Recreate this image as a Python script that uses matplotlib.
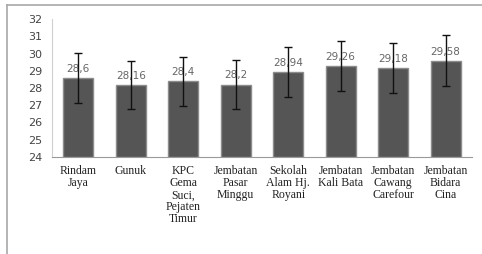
import matplotlib
matplotlib.use("Agg")
import matplotlib.pyplot as plt
from matplotlib.lines import Line2D
from matplotlib.font_manager import FontProperties

categories = ["Rindam\nJaya", "Gunuk", "KPC\nGema\nSuci,\nPejaten\nTimur", "Jembatan\nPasar\nMinggu",
              "Sekolah\nAlam Hj.\nRoyani", "Jembatan\nKali Bata", "Jembatan\nCawang\nCarefour", "Jembatan\nBidara\nCina"]
values = [28.6, 28.16, 28.4, 28.2, 28.94, 29.26, 29.18, 29.58]
errors = [1.45, 1.4, 1.42, 1.4, 1.45, 1.45, 1.45, 1.47]
labels = ["28,6", "28,16", "28,4", "28,2", "28,94", "29,26", "29,18", "29,58"]
yticks = [24, 25, 26, 27, 28, 29, 30, 31, 32]

fig = plt.figure(figsize=(4.82, 2.54), dpi=100)
ax = fig.add_axes([0.108, 0.382, 0.871, 0.543])

x = list(range(len(values)))
ax.bar(x, [v - 24 for v in values], bottom=24, width=0.57, color="#555555",
       edgecolor="#8c8c8c", linewidth=1.0, zorder=2)
ax.errorbar(x, values, yerr=errors, fmt="none", ecolor="#111111", elinewidth=1.0,
            capsize=3, capthick=1.0, zorder=4)
for xi, v, lab in zip(x, values, labels):
    ax.annotate(lab, (xi, v), xytext=(0, 3), textcoords="offset points", ha="center",
                va="bottom", fontsize=7.5, color="#666666", family="DejaVu Sans", zorder=3)

ax.set_xlim(-0.5, len(values) - 0.5)
ax.set_ylim(24, 32)
ax.set_yticks(yticks)
ax.set_yticklabels([str(t) for t in yticks], fontsize=8, color="#444444")
ax.set_xticks(x)
serif = FontProperties(family="Liberation Serif", size=8.5)
ax.set_xticklabels(categories, fontproperties=serif, color="#222222", linespacing=1.0)
ax.tick_params(axis="both", length=0)
ax.tick_params(axis="y", pad=7)
ax.tick_params(axis="x", pad=6)
for s in ["top", "right"]:
    ax.spines[s].set_visible(False)
ax.spines["left"].set_color("#d0d0d0")
ax.spines["bottom"].set_color("#9a9a9a")

# outer frame (top and left visible)
fig.add_artist(Line2D([7 / 482, 1.0], [1 - 5 / 254, 1 - 5 / 254], color="#a8a8a8", linewidth=1.2,
                      transform=fig.transFigure))
fig.add_artist(Line2D([7 / 482, 7 / 482], [0, 1 - 5 / 254], color="#a8a8a8", linewidth=1.2,
                      transform=fig.transFigure))

fig.savefig("out.png", dpi=100)
